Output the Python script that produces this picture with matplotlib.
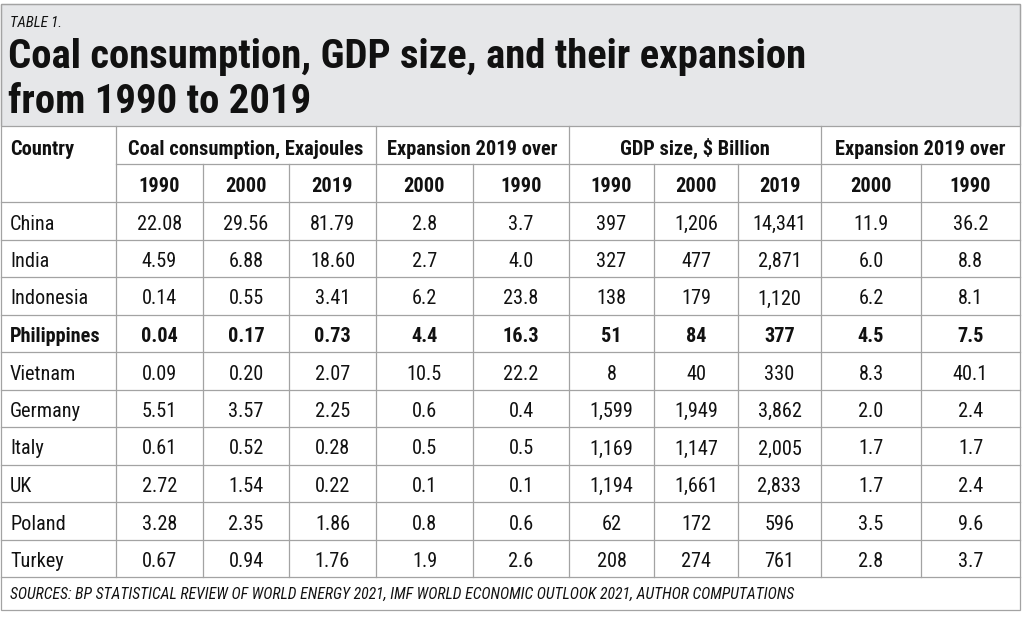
import matplotlib
matplotlib.use('Agg')
import matplotlib.pyplot as plt
from matplotlib import font_manager
from matplotlib.patches import Rectangle

# Table data
countries = ['China', 'India', 'Indonesia', 'Philippines', 'Vietnam',
             'Germany', 'Italy', 'UK', 'Poland', 'Turkey']
coal_1990 = [22.08, 4.59, 0.14, 0.04, 0.09, 5.51, 0.61, 2.72, 3.28, 0.67]
coal_2000 = [29.56, 6.88, 0.55, 0.17, 0.20, 3.57, 0.52, 1.54, 2.35, 0.94]
coal_2019 = [81.79, 18.60, 3.41, 0.73, 2.07, 2.25, 0.28, 0.22, 1.86, 1.76]
coal_exp_2000 = [2.8, 2.7, 6.2, 4.4, 10.5, 0.6, 0.5, 0.1, 0.8, 1.9]
coal_exp_1990 = [3.7, 4.0, 23.8, 16.3, 22.2, 0.4, 0.5, 0.1, 0.6, 2.6]
gdp_1990 = [397, 327, 138, 51, 8, 1599, 1169, 1194, 62, 208]
gdp_2000 = [1206, 477, 179, 84, 40, 1949, 1147, 1661, 172, 274]
gdp_2019 = [14341, 2871, 1120, 377, 330, 3862, 2005, 2833, 596, 761]
gdp_exp_2000 = [11.9, 6.0, 6.2, 4.5, 8.3, 2.0, 1.7, 1.7, 3.5, 2.8]
gdp_exp_1990 = [36.2, 8.8, 8.1, 7.5, 40.1, 2.4, 1.7, 2.4, 9.6, 3.7]
highlight = 'Philippines'

group_headers = ['Coal consumption, Exajoules', 'Expansion 2019 over',
                 'GDP size, $ Billion', 'Expansion 2019 over']
sub_headers = ['1990', '2000', '2019', '2000', '1990',
               '1990', '2000', '2019', '2000', '1990']

table_label = 'TABLE 1.'
title_lines = ['Coal consumption, GDP size, and their expansion',
               'from 1990 to 2019']
sources = ('SOURCES: BP STATISTICAL REVIEW OF WORLD ENERGY 2021, '
           'IMF WORLD ECONOMIC OUTLOOK 2021, AUTHOR COMPUTATIONS')


def pick_font(names):
    for name in names:
        try:
            font_manager.findfont(font_manager.FontProperties(family=name),
                                  fallback_to_default=False)
            return name
        except ValueError:
            pass
    return 'DejaVu Sans'


FONT = pick_font(['Roboto Condensed', 'Liberation Sans Narrow',
                  'DejaVu Sans Condensed', 'Open Sans Condensed', 'Roboto'])

# layout in pixels
col_edges = [1, 116, 203, 289, 376, 473, 569, 654, 738, 821, 921, 1020]
group_spans = [(1, 4), (4, 6), (6, 9), (9, 11)]
top, title_bottom, head1, head2 = 4, 126, 164, 202
row_h = 37.5
table_bottom = head2 + row_h * len(countries)
bottom = 610

grid_color = '#a3a3a3'
text_color = '#111111'
box_color = '#e6e7e9'

fig = plt.figure(figsize=(10.24, 6.19), dpi=100)
ax = fig.add_axes([0, 0, 1, 1])
ax.set_xlim(0, 1024)
ax.set_ylim(619, 0)
ax.axis('off')

# title box and outer frame
ax.add_patch(Rectangle((col_edges[0], top), col_edges[-1] - col_edges[0],
                       title_bottom - top, facecolor=box_color,
                       edgecolor=grid_color, lw=0.9))
ax.add_patch(Rectangle((col_edges[0], top), col_edges[-1] - col_edges[0],
                       bottom - top, facecolor='none',
                       edgecolor=grid_color, lw=0.9))

# horizontal rules
ax.plot([col_edges[1], col_edges[-1]], [head1, head1], color=grid_color, lw=0.9)
for k in range(len(countries) + 1):
    y = head2 + k * row_h
    ax.plot([col_edges[0], col_edges[-1]], [y, y], color=grid_color, lw=0.9)

# vertical rules: group borders run through both header rows
major = [col_edges[1]] + [col_edges[b] for a, b in group_spans[:-1]]
for x in col_edges[1:-1]:
    y0 = title_bottom if x in major else head1
    ax.plot([x, x], [y0, table_bottom], color=grid_color, lw=0.9)

base = dict(color=text_color, family=FONT, fontstretch='condensed')

ax.text(10, 27, table_label, fontsize=10.7, style='italic', va='baseline', **base)
ax.text(8, 68, title_lines[0], fontsize=29.3, weight='bold', va='baseline', **base)
ax.text(8, 113, title_lines[1], fontsize=29.3, weight='bold', va='baseline', **base)

ax.text(10, title_bottom + 29, 'Country', fontsize=14.7, weight='bold',
        va='baseline', **base)
for label, (a, b) in zip(group_headers, group_spans):
    ax.text((col_edges[a] + col_edges[b]) / 2, title_bottom + 29, label,
            fontsize=14.7, weight='bold', ha='center', va='baseline', **base)
for j, label in enumerate(sub_headers):
    ax.text((col_edges[j + 1] + col_edges[j + 2]) / 2, head1 + 28.5, label,
            fontsize=14.7, weight='bold', ha='center', va='baseline', **base)

columns = [
    [f'{v:.2f}' for v in coal_1990],
    [f'{v:.2f}' for v in coal_2000],
    [f'{v:.2f}' for v in coal_2019],
    [f'{v:.1f}' for v in coal_exp_2000],
    [f'{v:.1f}' for v in coal_exp_1990],
    [f'{v:,}' for v in gdp_1990],
    [f'{v:,}' for v in gdp_2000],
    [f'{v:,}' for v in gdp_2019],
    [f'{v:.1f}' for v in gdp_exp_2000],
    [f'{v:.1f}' for v in gdp_exp_1990],
]

for i, name in enumerate(countries):
    yb = head2 + i * row_h + 27.5
    w = 'bold' if name == highlight else 'normal'
    ax.text(10, yb, name, fontsize=14.6, weight=w, va='baseline', **base)
    for j, col in enumerate(columns):
        ax.text((col_edges[j + 1] + col_edges[j + 2]) / 2, yb, col[i],
                fontsize=14.6, weight=w, ha='center', va='baseline', **base)

ax.text(10, 599, sources, fontsize=11.3, style='italic', va='baseline', **base)

fig.savefig('out.png', dpi=100)
